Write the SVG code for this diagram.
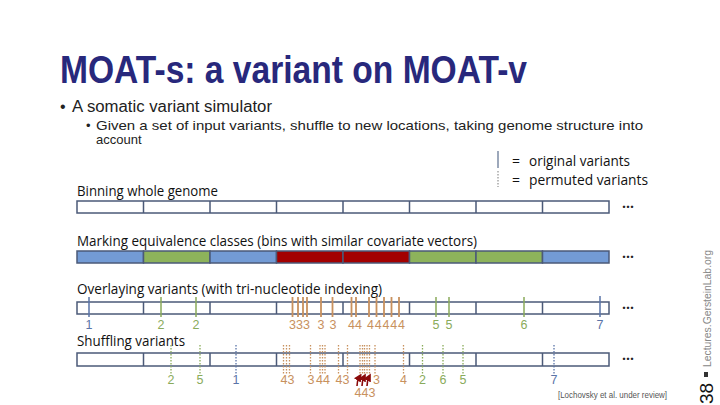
<svg xmlns="http://www.w3.org/2000/svg" width="720" height="405" viewBox="0 0 720 405">
<defs>
<style>
.title{font-family:"Liberation Sans",Arial,sans-serif;font-weight:bold;font-size:38px;fill:#28287c}
.b1{font-family:"Liberation Sans",Arial,sans-serif;font-size:16px;fill:#222}
.b2{font-family:"Liberation Sans",Arial,sans-serif;font-size:13px;fill:#222}
.lbl{font-family:"Open Sans","Liberation Sans",sans-serif;font-size:14px;fill:#111}
.leg{font-family:"Open Sans","Liberation Sans",sans-serif;font-size:14px;fill:#111}
.dots{font-family:"Open Sans","Liberation Sans",sans-serif;font-size:14px;font-weight:bold;fill:#222}
.bar{fill:#fff;stroke:#4b5a78;stroke-width:1.5}
.div{stroke:#4b5a78;stroke-width:1.5}
.cb{fill:#739bd5;stroke:#4b5a78;stroke-width:1.5}
.cg{fill:#8db35b;stroke:#4b5a78;stroke-width:1.5}
.cr{fill:#a30000;stroke:#4b5a78;stroke-width:1.5}
.num{font-family:"Liberation Sans","Open Sans",sans-serif;font-size:12.5px;text-anchor:middle}
.tb{fill:#5a74a8}.tg{fill:#8aab5b}.to{fill:#c8915e}
.sb{stroke:#5a74a8;stroke-width:1.5}.sg{stroke:#8aab5b;stroke-width:1.5}.so{stroke:#c8915e;stroke-width:1.8}
.db{stroke:#5a74a8;stroke-width:1.3;stroke-dasharray:1.5 1.5}
.dg{stroke:#8aab5b;stroke-width:1.3;stroke-dasharray:1.5 1.5}
.do{stroke:#c8915e;stroke-width:1.3;stroke-dasharray:1.5 1.5}
.arr{stroke:#8b0a0a;stroke-width:1.6;fill:none}
</style>
<marker id="ah" viewBox="0 0 6 6" refX="3" refY="3" markerWidth="5" markerHeight="5" orient="auto">
<path d="M0,0 L6,3 L0,6 z" fill="#8b0a0a"/>
</marker>
</defs>
<rect width="720" height="405" fill="#fff"/>

<g id="header">
<text class="title" x="60" y="83" textLength="467" lengthAdjust="spacingAndGlyphs">MOAT-s: a variant on MOAT-v</text>
<text class="b1" x="60" y="112">•</text>
<text class="b1" x="72" y="112" textLength="200" lengthAdjust="spacingAndGlyphs">A somatic variant simulator</text>
<text class="b2" x="86" y="130">•</text>
<text class="b2" x="96" y="130" textLength="547" lengthAdjust="spacingAndGlyphs">Given a set of input variants, shuffle to new locations, taking genome structure into</text>
<text class="b2" x="96" y="144">account</text>
</g>

<g id="legend">
<line x1="498" y1="151" x2="498" y2="168" stroke="#7d8ba5" stroke-width="1.5"/>
<line x1="498" y1="171" x2="498" y2="187" stroke="#999" stroke-width="1.3" stroke-dasharray="1.5 1.5"/>
<text class="leg" x="512" y="166">=</text>
<text class="leg" x="529" y="166" textLength="101" lengthAdjust="spacingAndGlyphs">original variants</text>
<text class="leg" x="512" y="185">=</text>
<text class="leg" x="529" y="185" textLength="119" lengthAdjust="spacingAndGlyphs">permuted variants</text>
</g>

<g id="row-binning">
<text class="lbl" x="77" y="196" textLength="141" lengthAdjust="spacingAndGlyphs">Binning whole genome</text>
<rect class="bar" x="77" y="201" width="532" height="12"/>
<path class="div" d="M143.5,201v12M210,201v12M276.5,201v12M343,201v12M409.5,201v12M476,201v12M542.5,201v12"/>
<text class="dots" x="622" y="208">...</text>
</g>

<g id="row-classes">
<text class="lbl" x="77" y="246" textLength="400" lengthAdjust="spacingAndGlyphs">Marking equivalence classes (bins with similar covariate vectors)</text>
<rect class="cb" x="77" y="251" width="66.5" height="12"/>
<rect class="cg" x="143.5" y="251" width="66.5" height="12"/>
<rect class="cb" x="210" y="251" width="66.5" height="12"/>
<rect class="cr" x="276.5" y="251" width="66.5" height="12"/>
<rect class="cr" x="343" y="251" width="66.5" height="12"/>
<rect class="cg" x="409.5" y="251" width="66.5" height="12"/>
<rect class="cg" x="476" y="251" width="66.5" height="12"/>
<rect class="cb" x="542.5" y="251" width="66.5" height="12"/>
<text class="dots" x="622" y="258">...</text>
</g>

<g id="row-overlay">
<text class="lbl" x="77" y="294" textLength="305" lengthAdjust="spacingAndGlyphs">Overlaying variants (with tri-nucleotide indexing)</text>
<rect class="bar" x="77" y="302" width="532" height="12"/>
<path class="div" d="M143.5,302v12M210,302v12M276.5,302v12M343,302v12M409.5,302v12M476,302v12M542.5,302v12"/>
<text class="dots" x="622" y="309">...</text>
</g>

<g id="row-shuffle">
<text class="lbl" x="77" y="346" textLength="108" lengthAdjust="spacingAndGlyphs">Shuffling variants</text>
<rect class="bar" x="77" y="353" width="532" height="13"/>
<path class="div" d="M143.5,353v13M210,353v13M276.5,353v13M343,353v13M409.5,353v13M476,353v13M542.5,353v13"/>
<text class="dots" x="622" y="360">...</text>
</g>

<g id="connectors">
<path class="sb" d="M89,297v20M600,296v21"/>
<path class="sg" d="M161,297v20M196,297v20M436,297v20M449,297v20M524,297v20"/>
<path class="so" d="M292.5,297v20M298,297v20M303,297v20M307,297v20M321,297v20M332.5,297v20M351.5,297v20M356,297v20M369,297v20M376.5,297v20M384,297v20M391.5,297v20M399,297v20"/>
<path class="db" d="M236,345v29M554,345v29"/>
<path class="dg" d="M171,345v29M200,345v29M422.5,345v29M443,345v29M463,345v29"/>
<path class="do" d="M283.5,345v29M286.5,345v29M289.5,345v29M310.5,345v29M320,345v29M322.5,345v29M325,345v29M338.5,345v29M347.5,345v29M360,345v29M362.5,345v29M364.5,345v29M367,345v29M369.5,345v29M375,345v29M403.5,345v29"/>
<path class="arr" d="M357,386 Q357,381 359.5,377" marker-end="url(#ah)"/>
<path class="arr" d="M362,386 Q362,381 364,377" marker-end="url(#ah)"/>
<path class="arr" d="M367,386 Q367,381 369,377" marker-end="url(#ah)"/>
</g>

<g id="labels-original">
<text class="num tb" x="89" y="329">1</text>
<text class="num tg" x="161" y="329">2</text>
<text class="num tg" x="196" y="329">2</text>
<text class="num to" x="292.5" y="329">3</text>
<text class="num to" x="303" y="329">33</text>
<text class="num to" x="321" y="329">3</text>
<text class="num to" x="333" y="329">3</text>
<text class="num to" x="355" y="329">44</text>
<text class="num to" x="386" y="329" textLength="38" lengthAdjust="spacing">44444</text>
<text class="num tg" x="436" y="329">5</text>
<text class="num tg" x="449" y="329">5</text>
<text class="num tg" x="524" y="329">6</text>
<text class="num tb" x="600" y="329">7</text>
</g>

<g id="labels-permuted">
<text class="num tg" x="171" y="384">2</text>
<text class="num tg" x="200" y="384">5</text>
<text class="num tb" x="236" y="384">1</text>
<text class="num to" x="287.5" y="384">43</text>
<text class="num to" x="311" y="384">3</text>
<text class="num to" x="323" y="384">44</text>
<text class="num to" x="342.5" y="384">43</text>
<text class="num to" x="376.5" y="384">3</text>
<text class="num to" x="365" y="397">443</text>
<text class="num to" x="403.5" y="384">4</text>
<text class="num tg" x="422.5" y="384">2</text>
<text class="num tg" x="443" y="384">6</text>
<text class="num tg" x="463" y="384">5</text>
<text class="num tb" x="554" y="384">7</text>
</g>

<g id="footer">
<text x="558" y="398" font-family="Liberation Sans,Arial,sans-serif" font-size="8.5" fill="#555" textLength="109" lengthAdjust="spacingAndGlyphs">[Lochovsky et al. under review]</text>
<text transform="translate(713,404) rotate(-90)" font-family="Liberation Sans,Arial,sans-serif" font-size="19" fill="#111">38</text>
<rect x="704" y="372" width="4" height="5" fill="#333"/>
<text transform="translate(711,367) rotate(-90)" font-family="Liberation Sans,Arial,sans-serif" font-size="10.5" fill="#888" textLength="117" lengthAdjust="spacingAndGlyphs">Lectures.GersteinLab.org</text>
</g>
</svg>
